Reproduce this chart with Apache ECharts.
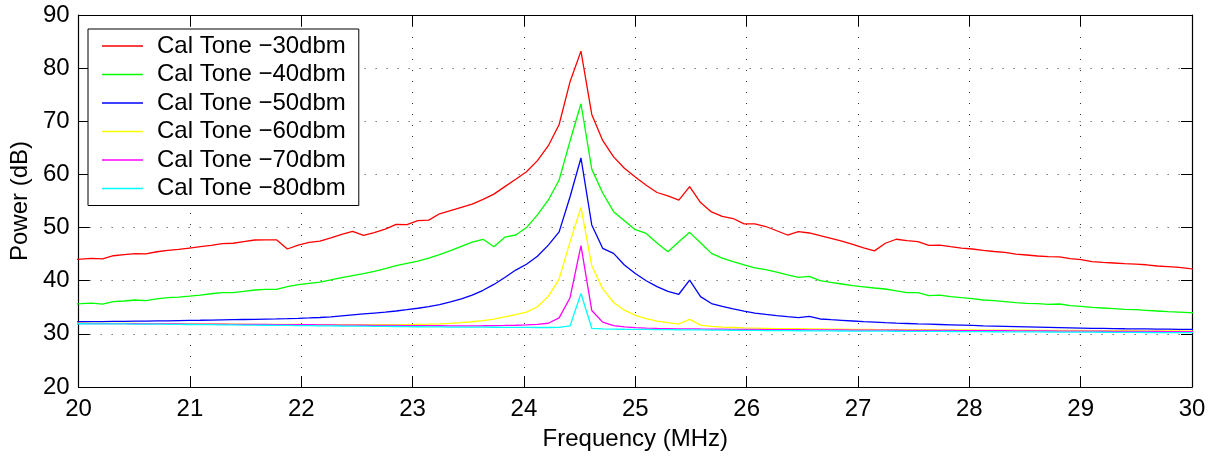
<!DOCTYPE html>
<html>
<head>
<meta charset="utf-8">
<script src="https://cdn.jsdelivr.net/npm/echarts@6/dist/echarts.min.js"></script>
<style>html,body{margin:0;padding:0;background:#fff}#c{width:1212px;height:457px}</style>
</head>
<body>
<div id="c"></div>
<script>
// Frequency grid (MHz)
var freq = [19.922,20.020,20.117,20.215,20.313,20.410,20.508,20.605,20.703,20.801,20.898,20.996,21.094,21.191,21.289,21.387,21.484,21.582,21.680,21.777,21.875,21.973,22.070,22.168,22.266,22.363,22.461,22.559,22.656,22.754,22.852,22.949,23.047,23.145,23.242,23.340,23.438,23.535,23.633,23.730,23.828,23.926,24.023,24.121,24.219,24.316,24.414,24.512,24.609,24.707,24.805,24.902,25.000,25.098,25.195,25.293,25.391,25.488,25.586,25.684,25.781,25.879,25.977,26.074,26.172,26.270,26.367,26.465,26.563,26.660,26.758,26.855,26.953,27.051,27.148,27.246,27.344,27.441,27.539,27.637,27.734,27.832,27.930,28.027,28.125,28.223,28.320,28.418,28.516,28.613,28.711,28.809,28.906,29.004,29.102,29.199,29.297,29.395,29.492,29.590,29.688,29.785,29.883,29.980,30.078];

var tone30 = [43.9,44.08,44.2,44.1,44.7,44.9,45.1,45.05,45.45,45.7,45.9,46.15,46.4,46.65,46.97,47.05,47.35,47.66,47.7,47.7,45.97,46.7,47.2,47.45,48.05,48.7,49.3,48.55,49.05,49.7,50.6,50.55,51.3,51.4,52.6,53.2,53.8,54.4,55.3,56.3,57.7,59.1,60.5,62.6,65.4,69.4,77.45,83.2,71.3,66.4,63.3,61.15,59.5,57.95,56.6,55.95,55.15,57.7,54.7,52.95,52.1,51.7,50.7,50.7,50.2,49.4,48.6,49.25,48.98,48.47,47.97,47.47,46.85,46.2,45.62,47.05,47.8,47.55,47.35,46.65,46.7,46.4,46.15,45.97,45.7,45.5,45.35,45.0,44.84,44.65,44.52,44.5,44.15,43.95,43.58,43.45,43.33,43.2,43.14,43.0,42.77,42.64,42.5,42.26,42.1];

var tone40 = [35.6,35.67,35.8,35.6,36.05,36.18,36.37,36.25,36.6,36.8,36.93,37.1,37.3,37.55,37.75,37.75,38.0,38.25,38.38,38.38,38.87,39.25,39.5,39.75,40.15,40.57,40.95,41.32,41.77,42.26,42.83,43.27,43.7,44.27,44.9,45.65,46.47,47.28,47.8,46.4,48.2,48.6,50.0,52.4,55.2,58.95,66.3,73.3,61.0,56.5,53.0,51.3,49.6,48.9,47.1,45.46,47.35,49.1,47.15,45.15,44.25,43.6,43.0,42.4,42.1,41.6,41.1,40.64,40.8,40.0,39.68,39.38,39.06,38.85,38.63,38.44,38.1,37.75,37.75,37.18,37.3,37.0,36.8,36.62,36.37,36.24,36.05,35.86,35.74,35.68,35.56,35.62,35.3,35.18,35.0,34.87,34.74,34.62,34.55,34.43,34.3,34.17,34.1,34.0,33.9];

var tone50 = [32.25,32.28,32.3,32.32,32.34,32.36,32.38,32.4,32.43,32.46,32.5,32.53,32.56,32.6,32.63,32.66,32.7,32.74,32.78,32.82,32.87,32.93,33.0,33.08,33.2,33.4,33.58,33.75,33.92,34.1,34.3,34.55,34.82,35.12,35.5,36.0,36.6,37.3,38.2,39.3,40.6,42.0,43.1,44.6,46.7,49.2,55.8,63.1,50.5,46.1,45.15,42.95,41.35,40.0,38.9,38.0,37.45,40.13,37.0,35.7,35.17,34.7,34.27,33.92,33.65,33.43,33.23,33.07,33.3,32.8,32.66,32.54,32.42,32.3,32.2,32.1,32.02,31.95,31.88,31.82,31.76,31.7,31.64,31.58,31.52,31.47,31.42,31.37,31.32,31.27,31.22,31.17,31.13,31.09,31.05,31.02,30.99,30.96,30.94,30.92,30.9,30.88,30.86,30.84,30.82];

var tone60 = [32.0,32.0,31.99,31.98,31.97,31.96,31.95,31.94,31.93,31.92,31.91,31.9,31.89,31.88,31.86,31.84,31.82,31.8,31.79,31.78,31.77,31.76,31.75,31.74,31.73,31.72,31.72,31.72,31.72,31.72,31.72,31.74,31.78,31.82,31.88,31.97,32.1,32.28,32.5,32.78,33.2,33.6,34.1,35.1,37.05,40.35,47.3,53.8,42.8,38.5,35.9,34.45,33.5,32.85,32.4,32.1,31.85,32.73,31.63,31.4,31.27,31.2,31.12,31.08,31.04,31.0,30.98,30.96,30.94,30.92,30.9,30.88,30.86,30.84,30.82,30.81,30.8,30.79,30.78,30.77,30.76,30.75,30.74,30.73,30.72,30.71,30.7,30.69,30.68,30.67,30.66,30.65,30.64,30.63,30.62,30.61,30.6,30.59,30.58,30.57,30.56,30.55,30.54,30.53,30.52];

var tone70 = [31.95,31.95,31.94,31.93,31.92,31.91,31.9,31.89,31.88,31.87,31.86,31.85,31.84,31.83,31.82,31.8,31.78,31.77,31.76,31.75,31.74,31.73,31.72,31.7,31.68,31.66,31.64,31.62,31.6,31.58,31.57,31.56,31.55,31.54,31.53,31.52,31.52,31.52,31.53,31.55,31.58,31.62,31.7,31.8,32.0,33.0,36.8,46.6,34.4,32.2,31.55,31.3,31.16,31.08,31.02,30.98,30.95,30.95,30.92,30.9,30.88,30.86,30.84,30.82,30.8,30.79,30.78,30.77,30.76,30.75,30.74,30.73,30.72,30.71,30.7,30.69,30.68,30.67,30.66,30.65,30.64,30.63,30.62,30.61,30.6,30.59,30.58,30.57,30.56,30.55,30.54,30.53,30.52,30.51,30.5,30.49,30.48,30.47,30.46,30.45,30.44,30.43,30.42,30.41,30.4];

var tone80 = [31.9,31.9,31.89,31.88,31.87,31.86,31.85,31.84,31.82,31.8,31.78,31.76,31.74,31.72,31.7,31.68,31.66,31.64,31.62,31.6,31.58,31.56,31.54,31.52,31.5,31.48,31.46,31.44,31.42,31.4,31.38,31.36,31.34,31.32,31.3,31.28,31.27,31.26,31.25,31.24,31.23,31.22,31.21,31.2,31.2,31.22,31.5,37.6,31.05,30.95,30.9,30.87,30.85,30.83,30.81,30.79,30.77,30.76,30.74,30.72,30.7,30.68,30.66,30.64,30.62,30.6,30.59,30.58,30.57,30.56,30.55,30.54,30.53,30.52,30.51,30.5,30.49,30.48,30.47,30.46,30.45,30.44,30.43,30.42,30.41,30.4,30.39,30.38,30.37,30.36,30.35,30.34,30.33,30.32,30.31,30.3,30.29,30.28,30.27,30.26,30.25,30.24,30.23,30.22,30.21];

var seriesNames = ['Cal Tone \u221230dbm','Cal Tone \u221240dbm','Cal Tone \u221250dbm','Cal Tone \u221260dbm','Cal Tone \u221270dbm','Cal Tone \u221280dbm'];
var seriesColors = ['#ff0000','#00ff00','#0000ff','#ffff00','#ff00ff','#00ffff'];
var seriesValues = [tone30, tone40, tone50, tone60, tone70, tone80];

var FONT = 'Liberation Sans, Arial, Helvetica, sans-serif';

function pairs(vals){ return freq.map(function(f,i){ return [f, vals[i]]; }); }

var series = seriesValues.map(function(v, i){
  return {
    name: seriesNames[i], type: 'line', data: pairs(v),
    symbol: 'none', showSymbol: false, clip: true, animation: false,
    lineStyle: { color: seriesColors[i], width: 1.3 },
    itemStyle: { color: seriesColors[i] }
  };
});

var dotted = { color: '#333', width: 1, type: [1, 10] };
var chart = echarts.init(document.getElementById('c'));
chart.setOption({
  animation: false,
  backgroundColor: '#fff',
  textStyle: { fontFamily: FONT },
  grid: { left: 76, right: 20, top: 15, bottom: 70, containLabel: false },
  xAxis: [{
    type: 'value', min: 20, max: 30, interval: 1,
    name: 'Frequency (MHz)', nameLocation: 'middle', nameGap: 40,
    nameTextStyle: { fontSize: 24, color: '#000', fontFamily: FONT },
    axisLine: { show: true, onZero: false, lineStyle: { color: '#000', width: 1.2 } },
    axisTick: { show: true, inside: true, length: 11, lineStyle: { color: '#000', width: 1 } },
    axisLabel: { fontSize: 24, color: '#000', margin: 10, fontFamily: FONT },
    splitLine: { show: true, lineStyle: dotted }
  }, {
    type: 'value', min: 20, max: 30, interval: 1, position: 'top',
    axisLine: { show: true, onZero: false, lineStyle: { color: '#000', width: 1.2 } },
    axisTick: { show: true, inside: true, length: 11, lineStyle: { color: '#000', width: 1 } },
    axisLabel: { show: false }, splitLine: { show: false }
  }],
  yAxis: [{
    type: 'value', min: 20, max: 90, interval: 10,
    name: 'Power (dB)', nameLocation: 'middle', nameGap: 42, nameRotate: 90,
    nameTextStyle: { fontSize: 24, color: '#000', fontFamily: FONT },
    axisLine: { show: true, onZero: false, lineStyle: { color: '#000', width: 1.2 } },
    axisTick: { show: true, inside: true, length: 11, lineStyle: { color: '#000', width: 1 } },
    axisLabel: { fontSize: 24, color: '#000', margin: 9, fontFamily: FONT },
    splitLine: { show: true, lineStyle: dotted }
  }, {
    type: 'value', min: 20, max: 90, interval: 10, position: 'right',
    axisLine: { show: true, onZero: false, lineStyle: { color: '#000', width: 1.2 } },
    axisTick: { show: true, inside: true, length: 11, lineStyle: { color: '#000', width: 1 } },
    axisLabel: { show: false }, splitLine: { show: false }
  }],
  legend: {
    show: true, orient: 'vertical', left: 88, top: 29,
    data: seriesNames,
    icon: 'rect',
    backgroundColor: '#fff', borderColor: '#000', borderWidth: 1,
    padding: [5, 13, 5, 14],
    itemWidth: 41, itemHeight: 1.5, itemGap: 4.5,
    textStyle: { fontSize: 24, color: '#000', fontFamily: FONT, lineHeight: 24, padding: [0, 0, 0, 9] }
  },
  series: series
});
</script>
</body>
</html>
